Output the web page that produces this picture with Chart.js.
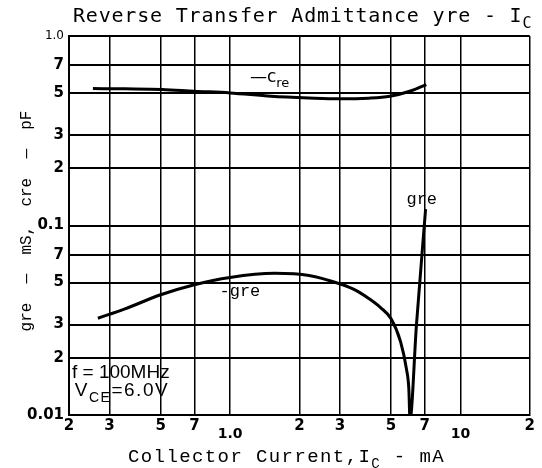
<!DOCTYPE html>
<html>
<head>
<meta charset="utf-8">
<script src="https://cdn.jsdelivr.net/npm/chart.js"></script>
<style>
  html, body { margin: 0; padding: 0; background: #fff; }
  #wrap { width: 542px; height: 468px; }
</style>
</head>
<body>
<div id="wrap"><canvas id="myChart" width="542" height="468"></canvas></div>
<script>
// axis ticks (log-log)
const xTicks = [0.2, 0.3, 0.5, 0.7, 1, 2, 3, 5, 7, 10, 20];
const xLabels = ['2', '3', '5', '7', ['', '1.0'], '2', '3', '5', '7', ['', '10'], '2'];
const yTicks = [0.01, 0.02, 0.03, 0.05, 0.07, 0.1, 0.2, 0.3, 0.5, 0.7, 1];
const yLabels = ['0.01', '2', '3', '5', '7', '0.1', '2', '3', '5', '7', '1.0'];

// -cre curve (pF, read on the upper decade)
const creCurrent = [0.254, 0.35, 0.507, 0.7, 1.0, 1.51, 2.2, 3.0, 4.0, 4.94, 6.03, 7.11];
const creValue = [0.528, 0.526, 0.522, 0.511, 0.501, 0.481, 0.471, 0.466, 0.470, 0.481, 0.511, 0.554];

// gre curve (mS), dips through zero near 6 mA
const greCurrent = [0.267, 0.35, 0.5, 0.7, 1.0, 1.56, 2.2, 3.01, 3.5, 4.0, 4.5, 5.0, 5.5, 5.83, 5.97, 6.04, 6.44, 7.06];
const greValue = [0.0324, 0.0363, 0.0431, 0.0487, 0.0532, 0.0559, 0.0545, 0.0491, 0.0456, 0.0412, 0.0369, 0.0322, 0.0243, 0.0175, 0.0138, 0.0095, 0.0296, 0.122];

// text notes placed in data coordinates
const notes = [
  { x: 1.22, y: 0.57, size: 17, family: 'DejaVu Sans', parts: [['\u2014', 0], ['c', 0], ['re', 1]] },
  { x: 0.90, y: 0.0425, size: 17, family: 'Liberation Mono', parts: [['-gre', 0]] },
  { x: 5.83, y: 0.1294, size: 17, family: 'Liberation Mono', parts: [['gre', 0]] },
  { x: 0.206, y: 0.0156, size: 19, family: 'Liberation Sans', parts: [['f = 100MHz', 0]] },
  { x: 0.212, y: 0.0126, size: 19, family: 'Liberation Sans', spacing: 1.5, parts: [['V', 0], ['CE', 1], ['=6.0V', 0]] }
];

function toPoints(xs, ys) {
  return xs.map((v, i) => ({ x: v, y: ys[i] }));
}

function drawParts(ctx, parts, x, y, size, family, spacing) {
  ctx.letterSpacing = (spacing || 0) + 'px';
  for (const [text, sub] of parts) {
    const s = sub ? Math.round(size * 0.75) : size;
    ctx.font = s + 'px "' + family + '"';
    ctx.fillText(text, x, y + (sub ? Math.round(size * 0.3) : 0));
    x += ctx.measureText(text).width;
  }
}

const textLayer = {
  id: 'textLayer',
  afterDraw(chart) {
    const ctx = chart.ctx;
    const xs = chart.scales.x, ys = chart.scales.y;
    ctx.save();
    ctx.fillStyle = '#000';
    ctx.textAlign = 'left';
    ctx.textBaseline = 'alphabetic';

    drawParts(ctx, [['Reverse Transfer Admittance yre - I', 0], ['C', 1]], 73, 22, 20, 'DejaVu Sans Mono', 0.8);
    drawParts(ctx, [['Collector Current,I', 0], ['C', 1], [' - mA', 0]], 128, 462, 19, 'Liberation Mono', 1.4);

    notes.forEach(n => {
      drawParts(ctx, n.parts, xs.getPixelForValue(n.x), ys.getPixelForValue(n.y), n.size, n.family, n.spacing);
    });

    ctx.letterSpacing = '0px';
    ctx.translate(27, 221);
    ctx.rotate(-Math.PI / 2);
    ctx.textAlign = 'center';
    ctx.textBaseline = 'middle';
    ctx.font = '16px "Liberation Mono"';
    ctx.fillText('gre  \u2014  mS,  cre  \u2014  pF', 0, 0);
    ctx.restore();
  }
};

const ctx = document.getElementById('myChart').getContext('2d');
const myChart = new Chart(ctx, {
  type: 'line',
  data: {
    datasets: [{
      label: '-cre',
      data: toPoints(creCurrent, creValue),
      borderColor: '#000',
      borderWidth: 3,
      pointRadius: 0,
      cubicInterpolationMode: 'monotone'
    }, {
      label: 'gre',
      data: toPoints(greCurrent, greValue),
      borderColor: '#000',
      borderWidth: 3,
      pointRadius: 0,
      cubicInterpolationMode: 'monotone'
    }]
  },
  options: {
    responsive: false,
    animation: false,
    devicePixelRatio: 1,
    layout: { padding: { top: 36, right: 7, left: 0, bottom: 0 } },
    plugins: {
      legend: { display: false },
      tooltip: { enabled: false },
      title: { display: false }
    },
    scales: {
      x: {
        type: 'logarithmic',
        min: 0.2,
        max: 20,
        afterBuildTicks: (scale) => { scale.ticks = xTicks.map(v => ({ value: v })); },
        afterFit: (scale) => { scale.height = 53; },
        grid: { color: '#000', lineWidth: 1.5, drawTicks: false },
        border: { color: '#000', width: 2 },
        ticks: {
          autoSkip: false,
          maxRotation: 0,
          padding: 7,
          color: '#000',
          font: (c) => {
            const big = c.index === 4 || c.index === 9;
            return { family: 'DejaVu Sans', size: big ? 14 : 15, weight: 'bold', lineHeight: 0.6 };
          },
          callback: (value, index) => xLabels[index]
        }
      },
      y: {
        type: 'logarithmic',
        min: 0.01,
        max: 1,
        afterBuildTicks: (scale) => { scale.ticks = yTicks.map(v => ({ value: v })); },
        afterFit: (scale) => { scale.width = 69; },
        grid: { color: '#000', lineWidth: 2, drawTicks: false },
        border: { color: '#000', width: 2 },
        ticks: {
          autoSkip: false,
          padding: 5,
          color: '#000',
          font: (c) => c.index === 10
            ? { family: 'DejaVu Sans', size: 12, weight: 'normal' }
            : { family: 'DejaVu Sans', size: 15, weight: 'bold' },
          callback: (value, index) => yLabels[index]
        }
      }
    }
  },
  plugins: [textLayer]
});
</script>
</body>
</html>
